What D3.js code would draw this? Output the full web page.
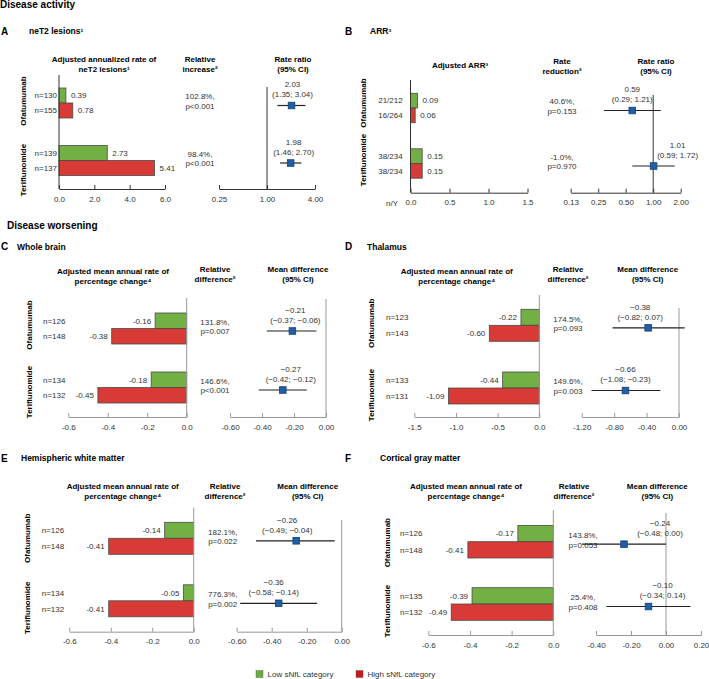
<!DOCTYPE html>
<html>
<head>
<meta charset="utf-8">
<script src="https://cdn.jsdelivr.net/npm/d3@7"></script>
<style>
  body { margin: 0; background: #fff; }
  svg { font-family: "Liberation Sans", Arial, sans-serif; }
</style>
</head>
<body>
<div id="chart"></div>
<script>
const groups = ["Ofatumumab", "Teriflunomide"];
const categories = ["Low sNfL category", "High sNfL category"];

// A - neT2 lesions
const neT2N = [["n=130", "n=155"], ["n=139", "n=137"]];
const neT2Rate = [[0.39, 0.78], [2.73, 5.41]];
const neT2Rel = [["102.8%,", "p<0.001"], ["98.4%,", "p<0.001"]];
const neT2Ratio = [2.03, 1.98];
const neT2Lo = [1.35, 1.46];
const neT2Hi = [3.04, 2.70];

// B - ARR
const arrN = [["21/212", "16/264"], ["38/234", "38/234"]];
const arrRate = [[0.09, 0.06], [0.15, 0.15]];
const arrRel = [["40.6%,", "p=0.153"], ["-1.0%,", "p=0.970"]];
const arrRatio = [0.59, 1.01];
const arrLo = [0.29, 0.59];
const arrHi = [1.21, 1.72];

// C - whole brain
const wbN = [["n=126", "n=148"], ["n=134", "n=132"]];
const wbChange = [[-0.16, -0.38], [-0.18, -0.45]];
const wbRel = [["131.8%,", "p=0.007"], ["146.6%,", "p<0.001"]];
const wbDiff = [-0.21, -0.27];
const wbLo = [-0.37, -0.42];
const wbHi = [-0.06, -0.12];

// D - thalamus
const thN = [["n=123", "n=143"], ["n=133", "n=131"]];
const thChange = [[-0.22, -0.60], [-0.44, -1.09]];
const thRel = [["174.5%,", "p=0.093"], ["149.6%,", "p=0.003"]];
const thDiff = [-0.38, -0.66];
const thLo = [-0.82, -1.08];
const thHi = [0.07, -0.23];

// E - hemispheric white matter
const wmN = [["n=126", "n=148"], ["n=134", "n=132"]];
const wmChange = [[-0.14, -0.41], [-0.05, -0.41]];
const wmRel = [["182.1%,", "p=0.022"], ["776.3%,", "p=0.002"]];
const wmDiff = [-0.26, -0.36];
const wmLo = [-0.49, -0.58];
const wmHi = [-0.04, -0.14];

// F - cortical gray matter
const gmN = [["n=126", "n=148"], ["n=135", "n=132"]];
const gmChange = [[-0.17, -0.41], [-0.39, -0.49]];
const gmRel = [["143.8%,", "p=0.053"], ["25.4%,", "p=0.408"]];
const gmDiff = [-0.24, -0.10];
const gmLo = [-0.48, -0.34];
const gmHi = [0.00, 0.14];

const barColor = { "Low sNfL category": "#72b043", "High sNfL category": "#d83b35" };
const legendColor = { "Low sNfL category": "#6aad3d", "High sNfL category": "#c91a1a" };

const changeHead = ["Adjusted mean annual rate of", "percentage change⁴"];
const diffHead = ["Mean difference", "(95% CI)"];
const relDiffHead = ["Relative", "difference²"];

const panels = [
  { letter: "A", title: "neT2 lesions¹", letterX: 1, titleX: 29, titleY: 31.3,
    barHead: ["Adjusted annualized rate of", "neT2 lesions¹"], barHeadX: 104, barHeadY: 59.5,
    relHead: ["Relative", "increase²"], relX: 200, relHeadY: 59.5,
    fHead: ["Rate ratio", "(95% CI)"], fX: 293, fHeadY: 59.5,
    n: neT2N, values: neT2Rate, rel: neT2Rel, est: neT2Ratio, lo: neT2Lo, hi: neT2Hi,
    groupY: [103, 160.5], barH: 15, glX: 23, glDy: [-2, 9.5], nX: 57, nAnchor: "end",
    barDomain: [0, 6], barRange: [59, 165], barTicks: [0, 2, 4, 6], barTop: 75, axisY: 189,
    log: true, fDomain: [0.25, 4], fRange: [219, 315], fTicks: [0.25, 1, 4], ref: 1, refTop: 87,
    estDx: [1, 3], dark: true },
  { letter: "B", title: "ARR³", letterX: 345, titleX: 370, titleY: 31.3,
    barHead: ["Adjusted ARR³"], barHeadX: 460, barHeadY: 65,
    relHead: ["Rate", "reduction²"], relX: 562, relHeadY: 61.5,
    fHead: ["Rate ratio", "(95% CI)"], fX: 656, fHeadY: 61.5,
    n: arrN, values: arrRate, rel: arrRel, est: arrRatio, lo: arrLo, hi: arrHi,
    groupY: [108, 163.5], barH: 14.7, glX: 363, glDy: [-5, -3.5], nX: 402.7, nAnchor: "end",
    barDomain: [0, 1.5], barRange: [410.5, 527.5], barTicks: [0, 0.5, 1, 1.5], barTop: 80, axisY: 192.7,
    unit: "n/Y", unitX: 392,
    log: true, fDomain: [0.125, 2], fRange: [570.7, 680.7], fTicks: [0.125, 0.25, 0.5, 1, 2], ref: 1, refTop: 95,
    estDx: [0, 24], dark: true },
  { letter: "C", title: "Whole brain", letterX: 1, titleX: 17, titleY: 246.7,
    barHead: changeHead, barHeadX: 113, barHeadY: 271.5,
    relHead: relDiffHead, relX: 215, relHeadY: 269.5,
    fHead: diffHead, fX: 298, fHeadY: 269.5,
    n: wbN, values: wbChange, rel: wbRel, est: wbDiff, lo: wbLo, hi: wbHi,
    groupY: [328.5, 387.5], barH: 15.5, glX: 29, glDy: [-3.5, 4.5], nX: 43, nAnchor: "start",
    barDomain: [-0.6, 0], barRange: [68.3, 186.7], barTicks: [-0.6, -0.4, -0.2, 0], barTop: 298, axisY: 417,
    fDomain: [-0.6, 0], fRange: [230, 326], fTicks: [-0.6, -0.4, -0.2, 0], ref: 0, refTop: 299,
    estDx: [3, 8] },
  { letter: "D", title: "Thalamus", letterX: 345, titleX: 367, titleY: 246.7,
    barHead: changeHead, barHeadX: 456.7, barHeadY: 271.5,
    relHead: relDiffHead, relX: 568, relHeadY: 269.5,
    fHead: diffHead, fX: 647.7, fHeadY: 269.5,
    n: thN, values: thChange, rel: thRel, est: thDiff, lo: thLo, hi: thHi,
    groupY: [325.3, 388], barH: 16, glX: 370.7, glDy: [-2, 7], nX: 386, nAnchor: "start",
    barDomain: [-1.5, 0], barRange: [414.3, 539.3], barTicks: [-1.5, -1, -0.5, 0], barTop: 295, axisY: 417,
    fDomain: [-1.2, 0], fRange: [581.7, 679], fTicks: [-1.2, -0.8, -0.4, 0], ref: 0, refTop: 308,
    estDx: [-8, 0] },
  { letter: "E", title: "Hemispheric white matter", letterX: 1, titleX: 21, titleY: 458.3,
    barHead: changeHead, barHeadX: 122.7, barHeadY: 486,
    relHead: relDiffHead, relX: 225, relValX: 222.7, relHeadY: 486,
    fHead: diffHead, fX: 307.7, fHeadY: 486,
    n: wmN, values: wmChange, rel: wmRel, est: wmDiff, lo: wmLo, hi: wmHi,
    groupY: [538.3, 600.8], barH: 16, glX: 27.3, glDy: [0, 7], nX: 41.7, nAnchor: "start",
    barDomain: [-0.6, 0], barRange: [69.3, 193.7], barTicks: [-0.6, -0.4, -0.2, 0], barTop: 507.7, axisY: 631.7,
    fDomain: [-0.6, 0], fRange: [236.7, 341.7], fTicks: [-0.6, -0.4, -0.2, 0], ref: 0, refTop: 520,
    estDx: [-9, -5] },
  { letter: "F", title: "Cortical gray matter", letterX: 345, titleX: 380, titleY: 458.3,
    barHead: changeHead, barHeadX: 466, barHeadY: 486,
    relHead: relDiffHead, relX: 574, relValX: 583, relHeadY: 486,
    fHead: diffHead, fX: 657.3, fHeadY: 486,
    n: gmN, values: gmChange, rel: gmRel, est: gmDiff, lo: gmLo, hi: gmHi,
    groupY: [541.7, 604], barH: 16.3, glX: 386.7, glDy: [1, 7], nX: 400, nAnchor: "start",
    barDomain: [-0.6, 0], barRange: [428.3, 553.3], barTicks: [-0.6, -0.4, -0.2, 0], barTop: 510, axisY: 635,
    fDomain: [-0.4, 0.2], fRange: [596, 701], fTicks: [-0.4, -0.2, 0, 0.2], ref: 0, refTop: 513,
    estDx: [36, 14] }
];

const svg = d3.select("#chart").append("svg")
  .attr("width", 709)
  .attr("height", 679);

// centred text helper
function label(g, x, y, str, size, opts = {}) {
  return g.append("text")
    .attr("x", x).attr("y", y).attr("dy", "0.35em")
    .attr("font-size", size)
    .attr("font-weight", opts.bold ? "bold" : null)
    .attr("text-anchor", opts.anchor || "middle")
    .attr("fill", opts.fill || "#222")
    .text(str);
}

const hyphen = f => d => f(d).replace("−", "-");

label(svg, 0, 4.4, "Disease activity", 10, { bold: true, anchor: "start", fill: "#000" });
label(svg, 7, 225, "Disease worsening", 10, { bold: true, anchor: "start", fill: "#000" });

function drawPanel(p) {
  const g = svg.append("g");
  const axisCol = p.dark ? "#333" : "#999";

  label(g, p.letterX, p.titleY, p.letter, 10, { bold: true, anchor: "start", fill: "#000" });
  label(g, p.titleX, p.titleY, p.title, 8.5, { bold: true, anchor: "start", fill: "#000" });

  p.barHead.forEach((t, i) => label(g, p.barHeadX, p.barHeadY + i * 10, t, 8, { bold: true, fill: "#000" }));
  p.relHead.forEach((t, i) => label(g, p.relX, p.relHeadY + i * 10, t, 8, { bold: true, fill: "#000" }));
  p.fHead.forEach((t, i) => label(g, p.fX, p.fHeadY + i * 10, t, 8, { bold: true, fill: "#000" }));

  const yGroup = d3.scalePoint().domain(groups).range(p.groupY);
  const yCat = d3.scaleBand().domain(categories).range([-p.barH, p.barH]);
  const x = d3.scaleLinear().domain(p.barDomain).range(p.barRange);

  const rows = groups.flatMap((gr, i) => categories.map((c, j) => ({
    gr, c, v: p.values[i][j], n: p.n[i][j]
  })));

  // group labels (rotated)
  groups.forEach((gr, i) => {
    g.append("text")
      .attr("transform", `translate(${p.glX},${yGroup(gr) + p.glDy[i]}) rotate(-90)`)
      .attr("dy", "0.35em")
      .attr("text-anchor", "middle")
      .attr("font-size", 8)
      .attr("font-weight", "bold")
      .attr("fill", "#000")
      .text(gr);
  });

  // bars
  g.selectAll("rect.bar").data(rows).join("rect")
    .attr("class", "bar")
    .attr("x", d => Math.min(x(0), x(d.v)))
    .attr("width", d => Math.abs(x(d.v) - x(0)))
    .attr("y", d => yGroup(d.gr) + yCat(d.c))
    .attr("height", yCat.bandwidth())
    .attr("fill", d => barColor[d.c])
    .attr("stroke", "#4a4a4a")
    .attr("stroke-width", 0.8);

  const fmtVal = hyphen(d3.format(".2f"));
  rows.forEach(d => {
    const yc = yGroup(d.gr) + yCat(d.c) + yCat.bandwidth() / 2;
    const pos = d.v >= 0;
    label(g, pos ? x(d.v) + 5 : x(d.v) - 4, yc, fmtVal(d.v), 8, { anchor: pos ? "start" : "end", fill: "#333" });
    label(g, p.nX, yc, d.n, 8, { anchor: p.nAnchor, fill: "#333" });
  });

  // bar axes
  g.append("line")
    .attr("x1", x(0)).attr("x2", x(0))
    .attr("y1", p.barTop).attr("y2", p.axisY)
    .attr("stroke", axisCol).attr("stroke-width", 1);

  const xAxis = g.append("g")
    .attr("transform", `translate(0,${p.axisY})`)
    .call(d3.axisBottom(x).tickValues(p.barTicks).tickFormat(hyphen(d3.format(".1f")))
      .tickSize(-4).tickSizeOuter(0).tickPadding(7));
  styleAxis(xAxis, axisCol);

  if (p.unit) label(g, p.unitX, p.axisY + 10, p.unit, 8, { fill: "#333" });

  // relative change text
  const rx = p.relValX || p.relX;
  groups.forEach((gr, i) => {
    label(g, rx, yGroup(gr) - 6.5, p.rel[i][0], 8, { fill: "#333" });
    label(g, rx, yGroup(gr) + 3, p.rel[i][1], 8, { fill: "#333" });
  });

  // forest plot
  const f = p.log
    ? d3.scaleLog().base(2).domain(p.fDomain).range(p.fRange)
    : d3.scaleLinear().domain(p.fDomain).range(p.fRange);

  const fAxis = g.append("g")
    .attr("transform", `translate(0,${p.axisY})`)
    .call(d3.axisBottom(f).tickValues(p.fTicks).tickFormat(hyphen(d3.format(".2f")))
      .tickSize(-4).tickSizeOuter(0).tickPadding(7));
  styleAxis(fAxis, axisCol);

  g.append("line")
    .attr("x1", f(p.ref)).attr("x2", f(p.ref))
    .attr("y1", p.refTop).attr("y2", p.axisY)
    .attr("stroke", axisCol).attr("stroke-width", 1);

  const fmtEst = d3.format(".2f");
  groups.forEach((gr, i) => {
    const ym = yGroup(gr) + 2.5;
    g.append("line")
      .attr("x1", f(p.lo[i])).attr("x2", f(p.hi[i]))
      .attr("y1", ym).attr("y2", ym)
      .attr("stroke", "#222").attr("stroke-width", 1.2);
    g.append("rect")
      .attr("x", f(p.est[i]) - 3.3).attr("y", ym - 3.3)
      .attr("width", 6.6).attr("height", 6.6)
      .attr("fill", "#1f5fa8").attr("stroke", "#16406f").attr("stroke-width", 0.8);
    const tx = f(p.est[i]) + p.estDx[i];
    label(g, tx, ym - 21, fmtEst(p.est[i]), 8, { fill: "#333" });
    label(g, tx, ym - 11, `(${fmtEst(p.lo[i])}; ${fmtEst(p.hi[i])})`, 8, { fill: "#333" });
  });
}

function styleAxis(ax, col) {
  ax.select(".domain").attr("stroke", col);
  ax.selectAll(".tick line").attr("stroke", col);
  ax.selectAll(".tick text")
    .attr("font-size", 8)
    .attr("font-family", "Liberation Sans, Arial, sans-serif")
    .attr("fill", "#333");
}

panels.forEach(drawPanel);

// legend
const legend = svg.append("g");
const legendX = d3.scaleOrdinal().domain(categories).range([256, 356]);
categories.forEach(c => {
  legend.append("rect")
    .attr("x", legendX(c)).attr("y", 670.5)
    .attr("width", 7).attr("height", 7)
    .attr("fill", legendColor[c]).attr("stroke", "#555").attr("stroke-width", 0.4);
  label(legend, legendX(c) + 11.5, 674, c, 8, { anchor: "start", fill: "#333" });
});
</script>
</body>
</html>
